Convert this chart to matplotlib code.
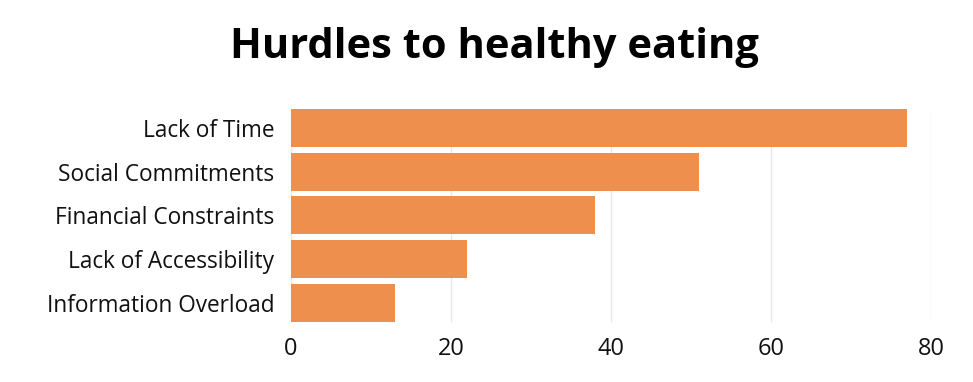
import matplotlib.pyplot as plt

categories = ["Lack of Time", "Social Commitments", "Financial Constraints",
              "Lack of Accessibility", "Information Overload"]
values = [77, 51, 38, 22, 13]
xticks = [0, 20, 40, 60, 80]

bar_color = "#EF8F4E"
bar_h = 0.87

fig = plt.figure(figsize=(9.73, 3.82), dpi=100)
ax = fig.add_axes([0.299, 0.157, 0.658, 0.558])

ax.barh(range(len(categories)), values, height=bar_h, color=bar_color, zorder=2)
ax.set_ylim(len(categories) - 1 + bar_h / 2, -bar_h / 2)
ax.set_xlim(0, 80)
ax.set_xticks(xticks)
ax.set_yticks(range(len(categories)))
ax.set_yticklabels(categories, fontsize=16.3, family="Open Sans", color="#111111")
ax.tick_params(axis="x", labelsize=17, length=0, pad=11, labelcolor="#111111")
ax.tick_params(axis="y", length=0, pad=12)
for lbl in ax.get_xticklabels():
    lbl.set_family("Open Sans")

ax.grid(axis="x", color="#E6E6E6", linewidth=1, zorder=0)
for s in ax.spines.values():
    s.set_visible(False)

fig.text(0.508, 0.875, "Hurdles to healthy eating", ha="center", va="center",
         fontsize=30, fontweight="bold", family="Open Sans", color="black")

fig.savefig("out.png", dpi=100, facecolor="white")
